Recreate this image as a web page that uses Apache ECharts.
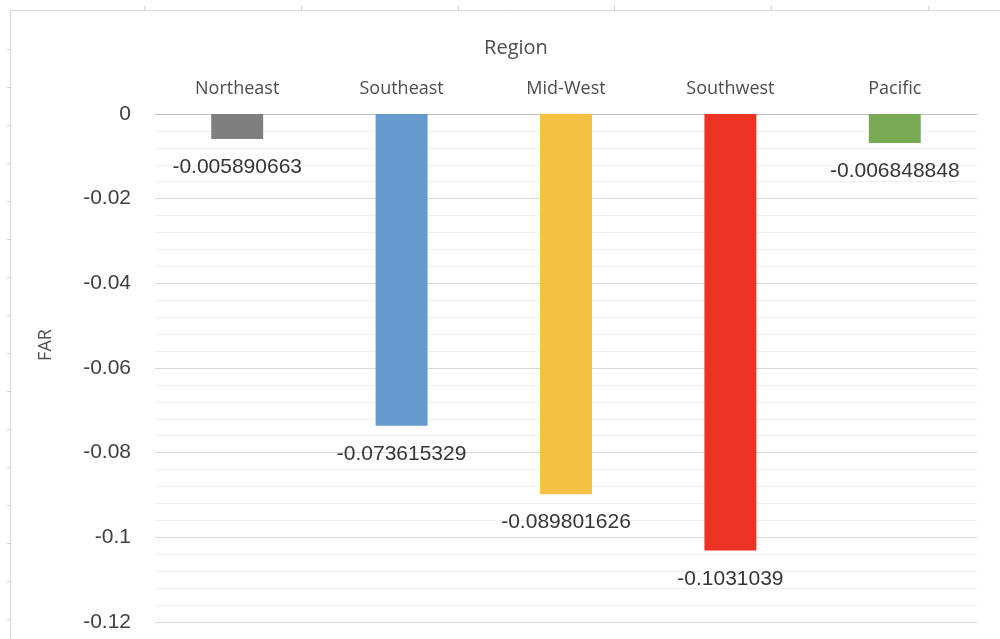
<!DOCTYPE html>
<html>
<head>
<meta charset="utf-8">
<title>FAR by Region</title>
<script src="https://cdn.jsdelivr.net/npm/echarts@6/dist/echarts.min.js"></script>
<style>
  html, body { margin: 0; padding: 0; background: #fff; }
  #chart { width: 1000px; height: 639px; }
</style>
</head>
<body>
<div id="chart"></div>
<script>
// Regions along the top axis and their FAR values
const regions = ['Northeast', 'Southeast', 'Mid-West', 'Southwest', 'Pacific'];
const farValues = [-0.005890663, -0.073615329, -0.089801626, -0.1031039, -0.006848848];
const barColors = ['#7f7f7f', '#6599d0', '#f5c142', '#ec3324', '#79aa54'];

const chart = echarts.init(document.getElementById('chart'), null, { renderer: 'canvas' });

// Sheet frame around the chart with small cell-boundary ticks
const frameColor = '#d9d9d9';
const frame = [
  { type: 'line', shape: { x1: 10.5, y1: 10.5, x2: 1000, y2: 10.5 }, style: { stroke: frameColor, lineWidth: 1 }, silent: true },
  { type: 'line', shape: { x1: 10.5, y1: 10.5, x2: 10.5, y2: 639 }, style: { stroke: frameColor, lineWidth: 1 }, silent: true }
];
[144.5, 301.5, 458.5, 614.5, 771.5, 928.5].forEach(function (x) {
  frame.push({ type: 'line', shape: { x1: x, y1: 6, x2: x, y2: 10 }, style: { stroke: '#cfcfcf', lineWidth: 1 }, silent: true });
});
[49.5, 87.5, 125.5, 163.5, 201.5, 239.5, 277.5, 315.5, 353.5, 391.5, 429.5, 467.5, 505.5, 543.5, 581.5, 619.5].forEach(function (y) {
  frame.push({ type: 'line', shape: { x1: 7, y1: y, x2: 10, y2: y }, style: { stroke: '#cfcfcf', lineWidth: 1 }, silent: true });
});

chart.setOption({
  backgroundColor: '#ffffff',
  animation: false,
  graphic: frame,
  grid: { left: 155, right: 23, top: 114, bottom: 17, containLabel: false },
  xAxis: {
    type: 'category',
    position: 'top',
    data: regions,
    name: 'Region',
    nameLocation: 'middle',
    nameGap: 56,
    // title sits centred on the whole chart rather than the plot area
    nameTextStyle: { fontFamily: 'Open Sans', fontSize: 20, color: '#4d4d4d', padding: [0, 100, 0, 0] },
    axisLine: { show: true, lineStyle: { color: '#bfbfbf', width: 1 } },
    axisTick: { show: false },
    axisLabel: { fontFamily: 'Open Sans', fontSize: 18, color: '#4d4d4d', margin: 16 },
    splitLine: { show: false }
  },
  yAxis: {
    type: 'value',
    min: -0.12,
    max: 0,
    interval: 0.02,
    name: 'FAR',
    nameLocation: 'middle',
    nameGap: 100,
    nameTextStyle: { fontFamily: 'Open Sans', fontSize: 18, color: '#4d4d4d', padding: [0, 0, 0, 46] },
    axisLine: { show: false },
    axisTick: { show: false },
    axisLabel: { fontFamily: 'Liberation Sans', fontSize: 21, color: '#404040', margin: 24 },
    splitLine: { show: true, lineStyle: { color: '#d9d9d9', width: 1 } },
    minorTick: { show: false, splitNumber: 5 },
    minorSplitLine: { show: true, lineStyle: { color: '#efefef', width: 1 } }
  },
  series: [{
    type: 'bar',
    data: farValues.map(function (v, i) {
      return { value: v, itemStyle: { color: barColors[i] } };
    }),
    barWidth: '31.6%',
    label: {
      show: true,
      position: 'bottom',
      distance: 18,
      fontFamily: 'Liberation Sans',
      fontSize: 21,
      color: '#363636',
      formatter: function (p) { return String(p.value); }
    }
  }]
});
</script>
</body>
</html>
